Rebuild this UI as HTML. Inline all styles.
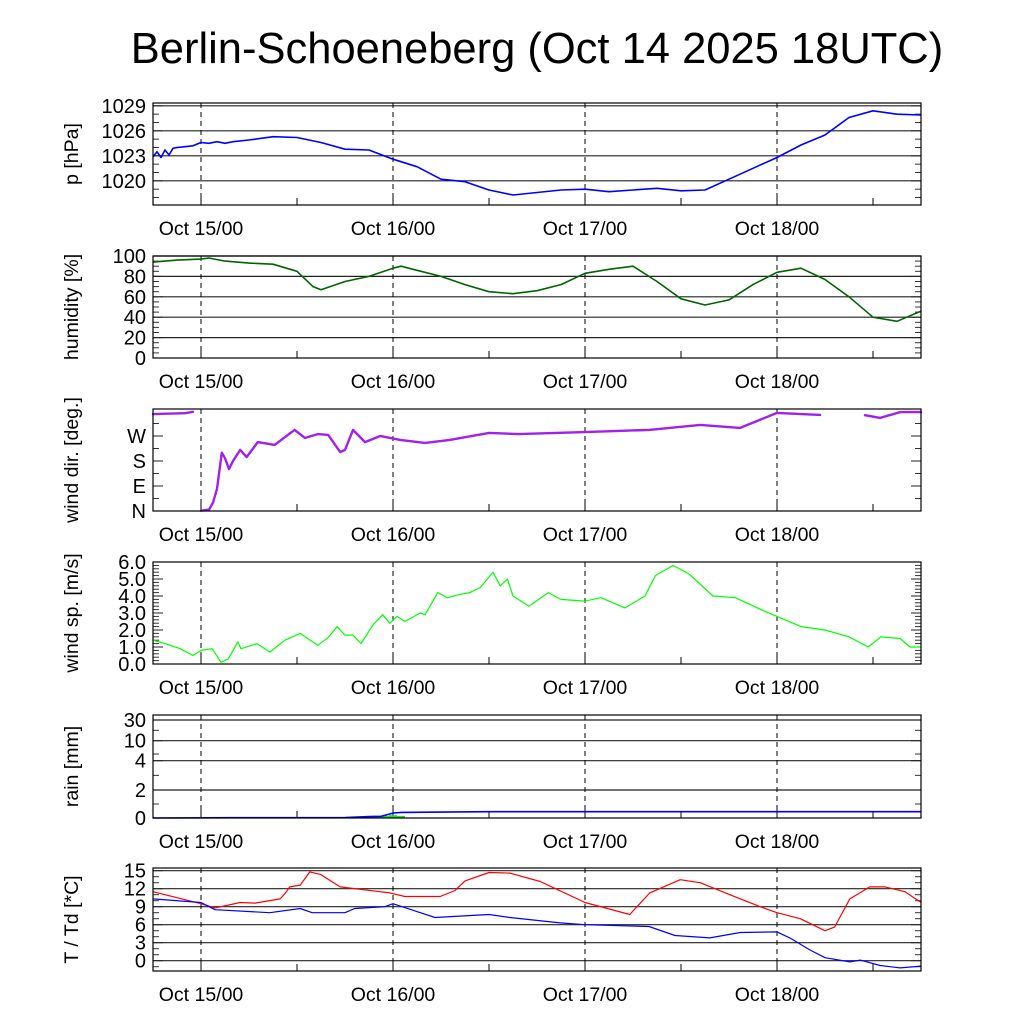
<!DOCTYPE html>
<html><head><meta charset="utf-8"><style>
body{margin:0;background:#fff}
svg{display:block;font-family:"Liberation Sans",sans-serif}
</style></head><body>
<svg id="c" width="1024" height="1024" xmlns="http://www.w3.org/2000/svg">
<text x="537" y="63" font-size="43.5" text-anchor="middle">Berlin-Schoeneberg (Oct 14 2025 18UTC)</text>
</svg>
<script>
// time in hours since Oct 14 18UTC
const xDayLabels = ["Oct 15/00","Oct 16/00","Oct 17/00","Oct 18/00"];
const xDayHours = [6,30,54,78];
const pHours = [0,0.5,1,1.5,2,2.5,3,4,5,6,7,8,9,10,12,15,18,21,24,27,30,33,36,39,42,45,48,51,54,57,60,63,66,69,72,75,78,81,84,87,90,93,96];
const pVals = [1022.9,1023.5,1022.8,1023.7,1023.1,1023.9,1024.0,1024.1,1024.2,1024.6,1024.5,1024.7,1024.5,1024.7,1024.9,1025.3,1025.2,1024.6,1023.8,1023.7,1022.6,1021.7,1020.2,1019.9,1018.9,1018.3,1018.6,1018.9,1019.0,1018.7,1018.9,1019.1,1018.8,1018.9,1020.2,1021.5,1022.8,1024.3,1025.5,1027.6,1028.4,1028.0,1027.9];
const hHours = [0,3,6,7,9,12,15,18,20,21,24,27,30,31,33,36,39,42,45,48,51,54,57,60,63,66,69,72,75,78,81,84,87,90,93,96];
const hVals = [94,96,97,98,95,93,92,85,70,67,75,80,88,90,86,80,72,65,63,66,72,83,87,90,75,58,52,57,72,84,88,77,60,40,36,46];
const dHours = [0,4,5,6,7,7.5,8,8.6,9,9.5,10,10.9,11.7,13.1,15.2,16.5,17.7,19,20.6,21.9,23.4,24,25,26.5,28.4,30.9,34,37.1,42,45.7,54,62,68.4,73.4,78,83.4,87.1,89,90.9,93.4,96];
const dVals = [349,352,357,1,5,30,80,210,190,151,180,220,194,248,238,266,292,263,277,274,212,220,292,248,270,256,245,256,281,277,284,292,310,299,353,346,2,345,335,356,356];
const wHours = [0,1.5,3.4,5,6,7.4,8.5,9.4,10.6,11,13,14.6,16.5,18.4,20.6,22,23,24,25,26,27.5,28.7,29.6,30.5,31.5,33.4,34,35.6,36.8,38.4,39.6,40.9,42.5,43.4,44.3,45,47,49.4,51,54,56,59,61.5,62.8,65,67,70,72.8,76,78,81,84,87,89.4,91,93.4,94.6,96];
const wVals = [1.4,1.2,0.9,0.5,0.8,0.9,0.1,0.3,1.3,0.9,1.2,0.7,1.4,1.8,1.1,1.6,2.2,1.7,1.7,1.2,2.3,2.9,2.4,2.8,2.5,3.0,2.9,4.2,3.9,4.1,4.2,4.5,5.4,4.6,5.0,4.0,3.4,4.2,3.8,3.7,3.9,3.3,4.0,5.2,5.8,5.3,4.0,3.9,3.2,2.8,2.2,2.0,1.6,1.0,1.6,1.5,1.0,1.0];
const rHours = [0,10,24,27,28.5,30,31,36,42,96];
const rVals = [0,0.02,0.03,0.1,0.12,0.35,0.4,0.42,0.45,0.45];
const rBarHours = [25,26,27,28,29,30,31];
const rBarVals = [0.05,0.05,0.08,0.1,0.15,0.2,0.15];
const tHours = [0,6,7.75,10.9,12.75,15.9,16.5,17.1,18.4,19.6,20.9,23.4,29.6,31.5,35.9,37.75,39,42,44.6,48.4,54,59.6,62.1,65.9,68.4,72.1,75.9,78,80.9,84,85.2,87.1,89.6,91.5,94,96];
const tVals = [11.5,9.5,8.8,9.7,9.6,10.3,11.2,12.3,12.6,14.8,14.4,12.3,11.3,10.7,10.7,11.7,13.3,14.7,14.6,13.2,9.7,7.7,11.3,13.5,13.0,11.0,9.0,8.0,7.0,5.0,5.6,10.3,12.3,12.3,11.5,9.7];
const tdHours = [0,6,7.75,14.6,18.4,19.9,24,25.2,29,30,32.75,35.25,42,44.6,50.9,54,62,65.25,69.6,73.4,78,79.6,82.1,84,87.1,88.4,90.9,93.4,96];
const tdVals = [10.3,9.7,8.5,8.0,8.7,8.0,8.0,8.7,9.0,9.5,8.3,7.2,7.7,7.2,6.3,6.0,5.7,4.2,3.8,4.7,4.8,3.8,1.8,0.5,-0.2,0.1,-0.8,-1.2,-0.9];

const svg=document.getElementById('c');
const NS='http://www.w3.org/2000/svg';
const X0=153,X1=921,H0=0,H1=96;
function xs(h){return X0+(h-H0)/(H1-H0)*(X1-X0);}
function mk(tag,attrs,parent){const e=document.createElementNS(NS,tag);for(const k in attrs)e.setAttribute(k,attrs[k]);(parent||svg).appendChild(e);return e;}

const panels=[
 {name:'pressure',top:103,bot:205,y:v=>205-(v-1017.1)*25/3,label:'p [hPa]',ticks:[1020,1023,1026,1029],grid:[1020,1023,1026,1029],minor:[1018,1019,1021,1022,1024,1025,1027,1028]},
 {name:'humidity',top:256,bot:358,y:v=>358-v*1.02,label:'humidity [%]',ticks:[0,20,40,60,80,100],grid:[20,40,60,80,100],minor:[5,10,15,25,30,35,45,50,55,65,70,75,85,90,95]},
 {name:'wind-direction',top:409,bot:511,y:v=>511-v*25/90,label:'wind dir. [deg.]',ticks:[0,90,180,270],tickText:['N','E','S','W'],grid:[],minor:[45,135,225,315]},
 {name:'wind-speed',top:562,bot:664,y:v=>664-v*17,label:'wind sp. [m/s]',ticks:[0,1,2,3,4,5,6],tickText:['0.0','1.0','2.0','3.0','4.0','5.0','6.0'],grid:[],minor:[0.2,0.4,0.6,0.8,1.2,1.4,1.6,1.8,2.2,2.4,2.6,2.8,3.2,3.4,3.6,3.8,4.2,4.4,4.6,4.8,5.2,5.4,5.6,5.8]},
 {name:'rain',top:715,bot:818,y:v=>{const a=[0,2,4,10,30],b=[818,790,760.7,740.7,720];for(let i=1;i<a.length;i++){if(v<=a[i])return b[i-1]+(v-a[i-1])/(a[i]-a[i-1])*(b[i]-b[i-1]);}return 720;},label:'rain [mm]',ticks:[0,2,4,10,30],grid:[2,4,10,30],minor:[1,3,6,20]},
 {name:'temperature',top:868,bot:971,y:v=>960.7-v*6,label:'T / Td [*C]',ticks:[0,3,6,9,12,15],grid:[0,3,6,9,12,15],minor:[-1,1,2,4,5,7,8,10,11,13,14]}
];

function line(hours,vals,p,color,w,name){
  let d='';for(let i=0;i<hours.length;i++){d+=(i?'L':'M')+xs(hours[i]).toFixed(1)+','+p.y(vals[i]).toFixed(1);}
  const e=mk('path',{d:d,fill:'none',stroke:color,'stroke-width':w,'stroke-linejoin':'round'});
  
  
}

panels.forEach(p=>{
  const g=mk('g',{});
  
  
  p.grid.forEach(v=>{const e=mk('line',{x1:X0,x2:X1,y1:p.y(v),y2:p.y(v),stroke:'#222','stroke-width':1.2},g);
    });
  p.minor.forEach(v=>{mk('line',{x1:X0,x2:X0+6,y1:p.y(v),y2:p.y(v),stroke:'#333'},g);mk('line',{x1:X1-6,x2:X1,y1:p.y(v),y2:p.y(v),stroke:'#333'},g);});
  p.ticks.forEach((v,i)=>{mk('line',{x1:X0,x2:X0+10,y1:p.y(v),y2:p.y(v),stroke:'#222'},g);mk('line',{x1:X1-10,x2:X1,y1:p.y(v),y2:p.y(v),stroke:'#222'},g);
    const t=mk('text',{x:X0-7,y:p.y(v)+7,'font-size':20,'text-anchor':'end'},g);t.textContent=p.tickText?p.tickText[i]:String(v);
    });
  xDayHours.forEach((h,i)=>{const x=xs(h);
    mk('line',{x1:x,x2:x,y1:p.top,y2:p.bot,stroke:'#000','stroke-dasharray':'5,4'},g);
    mk('line',{x1:x,x2:x,y1:p.bot-10,y2:p.bot,stroke:'#000'},g);
    mk('line',{x1:xs(h+12),x2:xs(h+12),y1:p.bot-7,y2:p.bot,stroke:'#000'},g);
    const t=mk('text',{x:x,y:p.bot+30,'font-size':19.5,'text-anchor':'middle'},g);t.textContent=xDayLabels[i];
    });
  const cy=(p.top+p.bot)/2;
  const lab=mk('text',{x:0,y:0,'font-size':19.5,'text-anchor':'middle',transform:`translate(78,${cy}) rotate(-90)`},g);
  lab.textContent=p.label;
});

line(pHours,pVals,panels[0],'#0000ff',1.6,'pressure-line');
line(hHours,hVals,panels[1],'#006400',1.6,'humidity-line');
// wind direction (break at wrap-around)
(function(){const p=panels[2];let d='';
  for(let i=0;i<dHours.length;i++){const v=dVals[i]%360;const prev=i?dVals[i-1]%360:v;
    d+=((i===0||Math.abs(v-prev)>150)?'M':'L')+xs(dHours[i]).toFixed(1)+','+p.y(v).toFixed(1);}
  const e=mk('path',{d:d,fill:'none',stroke:'#a020f0','stroke-width':2.4,'stroke-linejoin':'round','stroke-linecap':'round'});
  })();
line(wHours,wVals,panels[3],'#00ff00',1.2,'wind-speed-line');
rBarHours.forEach((h,i)=>{const p=panels[4];const y=p.y(rBarVals[i]);
  const e=mk('rect',{x:xs(h)-4,y:y,width:8,height:p.bot-y,fill:'#22dd22'});
  });
line(rHours,rVals,panels[4],'#0000ff',1.6,'rain-cumulative-line');
line(tHours,tVals,panels[5],'#ff0000',1.2,'temperature-line');
line(tdHours,tdVals,panels[5],'#0000ff',1.2,'dewpoint-line');
panels.forEach(p=>{const e=mk('rect',{x:X0,y:p.top,width:X1-X0,height:p.bot-p.top,fill:'none',stroke:'#000','stroke-width':1.2});
  });
</script>
</body></html>
